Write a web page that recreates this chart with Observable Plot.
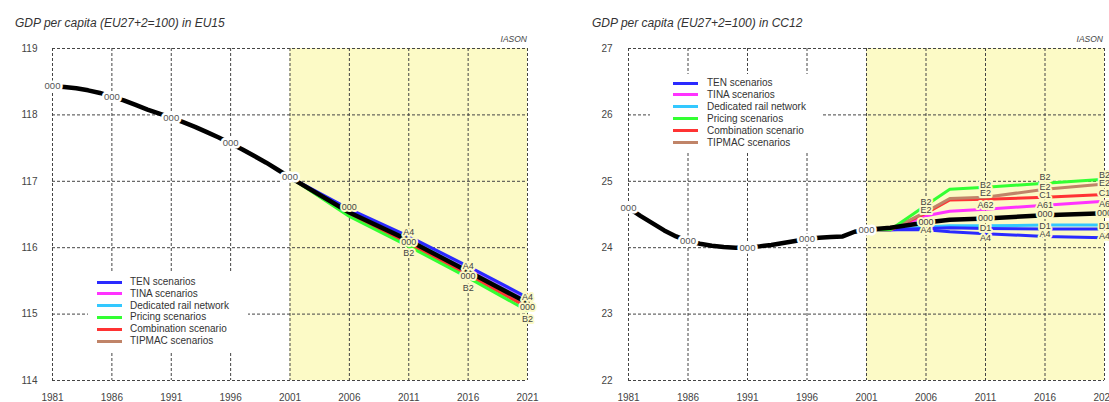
<!DOCTYPE html>
<html><head><meta charset="utf-8">
<script src="https://cdn.jsdelivr.net/npm/d3@7"></script>
<script src="https://cdn.jsdelivr.net/npm/@observablehq/plot@0.6"></script>
<style>
body{margin:0;background:#fff;font-family:"Liberation Sans",Arial,sans-serif;}
#wrap{position:relative;width:1109px;height:402px;overflow:hidden;background:#fff;}
.panel{position:absolute;top:0;height:402px;}
.title{position:absolute;top:16px;font-style:italic;font-size:12px;color:#333;white-space:nowrap;}
.src{position:absolute;top:34px;font-style:italic;font-size:8.5px;color:#444;white-space:nowrap;}
.legend{position:absolute;background:#fff;}
.legend .sw{position:absolute;width:25px;height:3px;}
.legend .tx{position:absolute;font-size:10px;color:#333;white-space:nowrap;line-height:12px;}
</style>
</head><body>
<div id="wrap"></div>
<script>
// ---------- shared ----------
const tickYears = [1981, 1986, 1991, 1996, 2001, 2006, 2011, 2016, 2021];
const shadeStart = 2001, shadeEnd = 2021;
const scenarioNames = ["TEN scenarios", "TINA scenarios", "Dedicated rail network", "Pricing scenarios", "Combination scenario", "TIPMAC scenarios"];
const scenarioColors = ["#2a2aff", "#ff33ff", "#33c8ff", "#33ff33", "#ff3333", "#c08468"];
const histYears = [1981,1982,1983,1984,1985,1986,1987,1988,1989,1990,1991,1992,1993,1994,1995,1996,1997,1998,1999,2000,2001];

// ---------- EU15 ----------
const eu15Title = "GDP per capita (EU27+2=100) in EU15";
const eu15YTicks = [114, 115, 116, 117, 118, 119];
const eu15Hist = [118.43,118.42,118.40,118.37,118.33,118.27,118.22,118.15,118.08,118.02,117.96,117.89,117.82,117.74,117.66,117.57,117.48,117.38,117.28,117.17,117.06];
const eu15ProjYears = [2001, 2006, 2011, 2016, 2021];
const eu15Ten     = [117.06, 116.58, 116.17, 115.72, 115.25];
const eu15Tina    = [117.06, 116.55, 116.14, 115.68, 115.21];
const eu15Rail    = [117.06, 116.54, 116.13, 115.66, 115.19];
const eu15Pricing = [117.06, 116.47, 116.02, 115.55, 115.05];
const eu15Comb    = [117.06, 116.49, 116.06, 115.59, 115.10];
const eu15Tipmac  = [117.06, 116.51, 116.09, 115.62, 115.14];
const eu15Base    = [117.06, 116.53, 116.11, 115.64, 115.17];
const eu15LabelYears  = [2006, 2011, 2011, 2011, 2016, 2016, 2016, 2021, 2021, 2021];
const eu15LabelValues = [116.61, 116.24, 116.09, 115.92, 115.72, 115.57, 115.39, 115.26, 115.10, 114.92];
const eu15LabelTexts  = ["000", "A4", "000", "B2", "A4", "000", "B2", "A4", "000", "B2"];

// ---------- CC12 ----------
const cc12Title = "GDP per capita (EU27+2=100) in CC12";
const cc12YTicks = [22, 23, 24, 25, 26, 27];
const cc12Hist = [24.60,24.48,24.37,24.26,24.17,24.10,24.06,24.03,24.01,24.00,24.00,24.02,24.04,24.07,24.10,24.13,24.15,24.16,24.17,24.24,24.27];
const cc12ProjYears = [2001, 2003, 2006, 2008, 2011, 2016, 2021];
const cc12Ten     = [24.27, 24.27, 24.27, 24.24, 24.21, 24.17, 24.15];
const cc12Ten2    = [24.27, 24.27, 24.29, 24.30, 24.29, 24.28, 24.28];
const cc12Tina    = [24.27, 24.27, 24.48, 24.55, 24.58, 24.64, 24.70];
const cc12Rail    = [24.27, 24.27, 24.31, 24.33, 24.33, 24.34, 24.34];
const cc12Pricing = [24.27, 24.27, 24.64, 24.88, 24.91, 24.97, 25.03];
const cc12Comb    = [24.27, 24.27, 24.52, 24.72, 24.73, 24.76, 24.80];
const cc12Tipmac  = [24.27, 24.27, 24.54, 24.74, 24.76, 24.88, 24.96];
const cc12Base    = [24.27, 24.30, 24.38, 24.42, 24.44, 24.49, 24.52];
const cc12LabelYears  = [2006,2006,2006,2006, 2011,2011,2011,2011,2011,2011, 2016,2016,2016,2016,2016,2016,2016, 2021,2021,2021,2021,2021,2021,2021];
const cc12LabelValues = [24.68,24.56,24.38,24.26, 24.95,24.82,24.64,24.45,24.29,24.15, 25.06,24.92,24.79,24.64,24.50,24.33,24.20, 25.10,24.97,24.82,24.65,24.52,24.33,24.17];
const cc12LabelTexts  = ["B2","E2","000","A4", "B2","E2","A62","000","D1","A4", "B2","E2","C1","A61","000","D1","A4", "B2","E2","C1","A6","000","D1","A4"];

// ---------- helpers ----------
const yellow = "#fcfac6";
const toRows = (xs, ys) => xs.map((x, i) => ({x, y: ys[i]}));

function makePanel(o) {
  const hist = toRows(histYears, o.hist);
  const histLabels = hist.filter(d => tickYears.includes(d.x));
  const projLabels = o.labelYears.map((x, i) => ({x, y: o.labelValues[i], t: o.labelTexts[i]}));
  const lines = o.series.map(s => Plot.line(toRows(o.projYears, s.values), {x: "x", y: "y", stroke: s.color, strokeWidth: 3}));
  return Plot.plot({
    width: o.width, height: 402,
    marginLeft: o.marginLeft, marginRight: o.marginRight, marginTop: 48, marginBottom: 22,
    style: {fontFamily: '"Liberation Sans", Arial, sans-serif', background: "transparent", overflow: "visible"},
    x: {domain: [1981, 2021], label: null},
    y: {domain: [o.yTicks[0], o.yTicks[o.yTicks.length - 1]], label: null},
    marks: [
      Plot.rect([{x1: shadeStart, x2: shadeEnd}], {x1: "x1", x2: "x2", fill: yellow}),
      Plot.gridX(tickYears, {stroke: "#444", strokeOpacity: 1, strokeDasharray: "3,2"}),
      Plot.gridY(o.yTicks, {stroke: "#444", strokeOpacity: 1, strokeDasharray: "3,2"}),
      Plot.axisX({ticks: tickYears, tickSize: 0, tickPadding: 13, fontSize: 10, fill: "#444", label: null, tickFormat: d => String(d)}),
      Plot.axisY({ticks: o.yTicks, tickSize: 0, tickPadding: o.yPad, fontSize: 10, fill: "#444", label: null, tickFormat: d => String(d)}),
      ...lines,
      Plot.line(hist, {x: "x", y: "y", stroke: "#000", strokeWidth: 4.5, strokeLinecap: "round"}),
      Plot.line(toRows(o.projYears, o.base), {x: "x", y: "y", stroke: "#000", strokeWidth: 4.5}),
      Plot.text(histLabels, {x: "x", y: "y", text: () => "000", fontSize: 9.5, fill: "#555", stroke: "#fff", strokeWidth: 5}),
      Plot.text(projLabels, {x: "x", y: "y", text: "t", fontSize: 9, fill: "#444", stroke: yellow, strokeWidth: 4})
    ]
  });
}

function legend(left, top, swLeft, txLeft, rowStart, rowStep, w, h) {
  const div = document.createElement("div");
  div.className = "legend";
  Object.assign(div.style, {left: left + "px", top: top + "px", width: w + "px", height: h + "px"});
  scenarioNames.forEach((name, i) => {
    const c = rowStart + i * rowStep;
    const sw = document.createElement("div");
    sw.className = "sw";
    Object.assign(sw.style, {left: swLeft + "px", top: (c - 1.5) + "px", background: scenarioColors[i]});
    const tx = document.createElement("div");
    tx.className = "tx";
    Object.assign(tx.style, {left: txLeft + "px", top: (c - 6) + "px"});
    tx.textContent = name;
    div.append(sw, tx);
  });
  return div;
}

const wrap = document.getElementById("wrap");

// Left panel
const left = document.createElement("div");
left.className = "panel";
Object.assign(left.style, {left: "0px", width: "555px"});
left.append(makePanel({
  width: 555, marginLeft: 52, marginRight: 28, yPad: 15, yTicks: eu15YTicks,
  hist: eu15Hist, projYears: eu15ProjYears, base: eu15Base,
  series: [
    {values: eu15Tina, color: scenarioColors[1]},
    {values: eu15Rail, color: scenarioColors[2]},
    {values: eu15Tipmac, color: scenarioColors[5]},
    {values: eu15Ten, color: scenarioColors[0]},
    {values: eu15Comb, color: scenarioColors[4]},
    {values: eu15Pricing, color: scenarioColors[3]}
  ],
  labelYears: eu15LabelYears, labelValues: eu15LabelValues, labelTexts: eu15LabelTexts
}));
const t1 = document.createElement("div"); t1.className = "title"; t1.style.left = "15px"; t1.textContent = eu15Title;
const s1 = document.createElement("div"); s1.className = "src"; s1.style.right = (555 - 527) + "px"; s1.textContent = "IASON";
left.append(t1, s1, legend(88, 272, 9, 42, 10, 11.8, 160, 80));
wrap.append(left);

// Right panel
const right = document.createElement("div");
right.className = "panel";
Object.assign(right.style, {left: "555px", width: "554px"});
right.append(makePanel({
  width: 554, marginLeft: 73, marginRight: 5, yPad: 16, yTicks: cc12YTicks,
  hist: cc12Hist, projYears: cc12ProjYears, base: cc12Base,
  series: [
    {values: cc12Rail, color: scenarioColors[2]},
    {values: cc12Ten2, color: scenarioColors[0]},
    {values: cc12Ten, color: scenarioColors[0]},
    {values: cc12Tina, color: scenarioColors[1]},
    {values: cc12Comb, color: scenarioColors[4]},
    {values: cc12Tipmac, color: scenarioColors[5]},
    {values: cc12Pricing, color: scenarioColors[3]}
  ],
  labelYears: cc12LabelYears, labelValues: cc12LabelValues, labelTexts: cc12LabelTexts
}));
const t2 = document.createElement("div"); t2.className = "title"; t2.style.left = "37px"; t2.textContent = cc12Title;
const s2 = document.createElement("div"); s2.className = "src"; s2.style.right = "6px"; s2.textContent = "IASON";
right.append(t2, s2, legend(650 - 555, 74, 23, 57, 9, 11.9, 172, 78));
wrap.append(right);
</script>
</body></html>
